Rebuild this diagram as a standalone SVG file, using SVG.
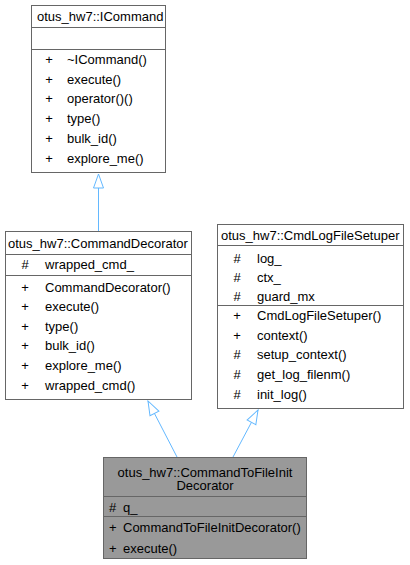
<svg xmlns="http://www.w3.org/2000/svg" width="410" height="565" viewBox="0 0 410 565">
<defs>
<style>
text{font-family:"Liberation Sans",Arial,sans-serif;font-size:13px;fill:#000}
.box{fill:#fff;stroke:#666;stroke-width:1}
.focus{fill:#999;stroke:#666;stroke-width:1}
.sep{stroke:#666;stroke-width:1}
.edge{stroke:#63b8ff;stroke-width:1;fill:none}
.c{text-anchor:middle}
</style>
<marker id="inh" markerUnits="userSpaceOnUse" markerWidth="16" markerHeight="12" refX="15" refY="6" orient="auto" viewBox="0 0 16 12">
<path d="M1,1 L15,6 L1,11 Z" fill="#fff" stroke="#63b8ff" stroke-width="1"/>
</marker>
</defs>
<rect width="410" height="565" fill="#fff"/>
<g id="connectors">
<line class="edge" x1="98.5" y1="231" x2="98.5" y2="174" marker-end="url(#inh)"/>
<line class="edge" x1="177" y1="457" x2="148" y2="401" marker-end="url(#inh)"/>
<line class="edge" x1="233" y1="457" x2="258" y2="410" marker-end="url(#inh)"/>
</g>
<g id="ICommand">
<rect class="box" x="31.5" y="5.5" width="134" height="167"/>
<line class="sep" x1="31.5" y1="27.5" x2="165.5" y2="27.5"/>
<line class="sep" x1="31.5" y1="49.5" x2="165.5" y2="49.5"/>
<text x="37" y="21">otus_hw7::ICommand</text>
<text class="c" x="49" y="64">+</text><text x="67" y="64">~ICommand()</text>
<text class="c" x="49" y="83.5">+</text><text x="67" y="83.5">execute()</text>
<text class="c" x="49" y="103">+</text><text x="67" y="103">operator()()</text>
<text class="c" x="49" y="123">+</text><text x="67" y="123">type()</text>
<text class="c" x="49" y="143">+</text><text x="67" y="143">bulk_id()</text>
<text class="c" x="49" y="163">+</text><text x="67" y="163">explore_me()</text>
</g>
<g id="CommandDecorator">
<rect class="box" x="5.5" y="231.5" width="186" height="168"/>
<line class="sep" x1="5.5" y1="254.5" x2="191.5" y2="254.5"/>
<line class="sep" x1="5.5" y1="275.5" x2="191.5" y2="275.5"/>
<text x="8" y="248">otus_hw7::CommandDecorator</text>
<text class="c" x="25" y="269">#</text><text x="45" y="269">wrapped_cmd_</text>
<text class="c" x="25" y="291.5">+</text><text x="45" y="291.5">CommandDecorator()</text>
<text class="c" x="25" y="311">+</text><text x="45" y="311">execute()</text>
<text class="c" x="25" y="330.5">+</text><text x="45" y="330.5">type()</text>
<text class="c" x="25" y="350">+</text><text x="45" y="350">bulk_id()</text>
<text class="c" x="25" y="370">+</text><text x="45" y="370">explore_me()</text>
<text class="c" x="25" y="389.5">+</text><text x="45" y="389.5">wrapped_cmd()</text>
</g>
<g id="CmdLogFileSetuper">
<rect class="box" x="217.5" y="224.5" width="186" height="184"/>
<line class="sep" x1="217.5" y1="245.5" x2="403.5" y2="245.5"/>
<line class="sep" x1="217.5" y1="305.5" x2="403.5" y2="305.5"/>
<text x="221" y="240">otus_hw7::CmdLogFileSetuper</text>
<text class="c" x="237" y="262.5">#</text><text x="257" y="262.5">log_</text>
<text class="c" x="237" y="282">#</text><text x="257" y="282">ctx_</text>
<text class="c" x="237" y="301">#</text><text x="257" y="301">guard_mx</text>
<text class="c" x="237" y="319.5">+</text><text x="257" y="319.5">CmdLogFileSetuper()</text>
<text class="c" x="237" y="339.5">+</text><text x="257" y="339.5">context()</text>
<text class="c" x="237" y="359">#</text><text x="257" y="359">setup_context()</text>
<text class="c" x="237" y="379">#</text><text x="257" y="379">get_log_filenm()</text>
<text class="c" x="237" y="399">#</text><text x="257" y="399">init_log()</text>
</g>
<g id="CommandToFileInitDecorator">
<rect class="focus" x="103.5" y="457.5" width="203" height="101"/>
<line class="sep" x1="103.5" y1="496.5" x2="306.5" y2="496.5"/>
<line class="sep" x1="103.5" y1="516.5" x2="306.5" y2="516.5"/>
<text class="c" x="205" y="476.5">otus_hw7::CommandToFileInit</text>
<text class="c" x="205" y="490">Decorator</text>
<text x="109" y="511.5">#</text><text x="123" y="511.5">q_</text>
<text x="109" y="531.5">+</text><text x="123" y="531.5">CommandToFileInitDecorator()</text>
<text x="109" y="552.5">+</text><text x="123" y="552.5">execute()</text>
</g>
</svg>
